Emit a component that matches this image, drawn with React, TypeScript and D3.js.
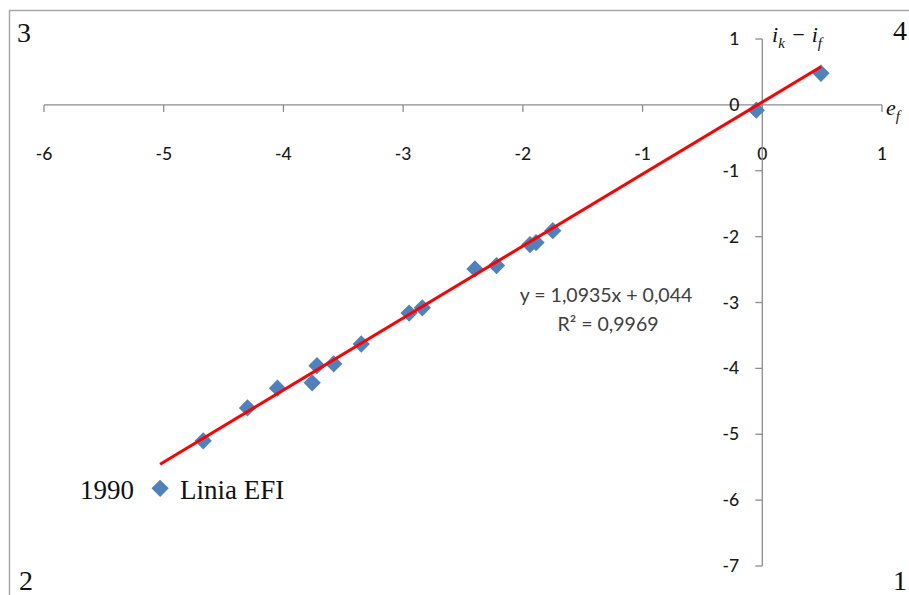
import React from "react";
import * as d3 from "d3";

// Observed points (e_f, i_k - i_f)
const ef = [0.49, -0.05, -1.75, -1.89, -1.94, -2.22, -2.4, -2.84, -2.95, -3.35, -3.58, -3.72, -3.76, -4.05, -4.3, -4.67, -5.03];
const diff = [0.48, -0.08, -1.91, -2.09, -2.12, -2.44, -2.49, -3.08, -3.16, -3.63, -3.93, -3.96, -4.22, -4.3, -4.6, -5.1, -5.82];

// Linear trend fitted to the series
const slope = 1.0935;
const intercept = 0.044;
const trendLabel = ["y = 1,0935x + 0,044", "R² = 0,9969"];

const xTicks = [-6, -5, -4, -3, -2, -1, 0, 1];
const yTicks = [1, 0, -1, -2, -3, -4, -5, -6, -7];

const W = 909;
const H = 595;

export default function App() {
  const x = d3.scaleLinear().domain([-6, 1]).range([44, 882]);
  const y = d3.scaleLinear().domain([-7, 1]).range([566, 39]);

  const x0 = x(0);
  const y0 = y(0);
  const axisColor = "#8c8c8c";
  const tickFont = "Lato, 'Open Sans', sans-serif";
  const serif = "'Liberation Serif', 'DejaVu Serif', serif";

  const xMin = d3.min(ef) as number;
  const xMax = d3.max(ef) as number;
  const trend = d3.line<number>().x((d) => x(d)).y((d) => y(slope * d + intercept));

  const diamond = d3.symbol().type(d3.symbolDiamond2).size(190)();
  const last = ef.length - 1;

  return (
    <svg
      width={W}
      height={H}
      style={{ position: "fixed", left: 0, top: 0, background: "#fff" }}
    >
      {/* outer frame */}
      <rect x={9.5} y={10.5} width={1000} height={1000} fill="none" stroke="#a6a6a6" strokeWidth={1.5} />

      {/* quadrant numbers */}
      <g fontFamily={serif} fontSize={28} fill="#111">
        <text x={17} y={42}>3</text>
        <text x={893} y={40}>4</text>
        <text x={19} y={590}>2</text>
        <text x={893} y={590}>1</text>
      </g>

      {/* horizontal axis */}
      <line x1={x(-6)} x2={x(1)} y1={y0} y2={y0} stroke={axisColor} strokeWidth={1.3} />
      {xTicks.map((t) => (
        <g key={"xt" + t}>
          <line x1={x(t)} x2={x(t)} y1={y0} y2={y0 + 7} stroke={axisColor} strokeWidth={1.3} />
          <text
            x={x(t)}
            y={y0 + 55}
            textAnchor="middle"
            fontFamily={tickFont}
            fontSize={17.5}
            fontWeight={500}
            fill="#1a1a1a"
          >
            {t}
          </text>
        </g>
      ))}

      {/* vertical axis */}
      <line x1={x0} x2={x0} y1={y(1)} y2={y(-7)} stroke={axisColor} strokeWidth={1.3} />
      {yTicks.map((t) => (
        <g key={"yt" + t}>
          <line x1={x0 - 7} x2={x0} y1={y(t)} y2={y(t)} stroke={axisColor} strokeWidth={1.3} />
          <text
            x={x0 - 23}
            y={y(t) + 6}
            textAnchor="end"
            fontFamily={tickFont}
            fontSize={17.5}
            fontWeight={500}
            fill="#1a1a1a"
          >
            {t}
          </text>
        </g>
      ))}

      {/* axis titles */}
      <text x={772} y={42} fontFamily={serif} fontStyle="italic" fontSize={22} fill="#111">
        i
        <tspan fontSize={15} dy={6}>k</tspan>
        <tspan dy={-6} dx={6}>−</tspan>
        <tspan dx={6}>i</tspan>
        <tspan fontSize={15} dy={6}>f</tspan>
      </text>
      <text x={886} y={115} fontFamily={serif} fontStyle="italic" fontSize={22} fill="#111">
        e
        <tspan fontSize={15} dy={6}>f</tspan>
      </text>

      {/* points */}
      {ef.map((v, i) => (
        <path key={"p" + i} d={diamond as string} transform={`translate(${x(v)},${y(diff[i])})`} fill="#4f81bd" />
      ))}

      {/* trendline */}
      <path d={trend([xMin, xMax]) as string} fill="none" stroke="#ff0000" strokeWidth={3} />

      {/* trend equation */}
      <g fontFamily={tickFont} fontSize={19.5} fill="#404040" textAnchor="middle">
        <text x={606} y={302}>{trendLabel[0]}</text>
        <text x={608} y={331}>{trendLabel[1]}</text>
      </g>

      {/* annotation of the 1990 point */}
      <g fontFamily={serif} fontSize={27} fill="#111">
        <text x={x(ef[last]) - 26} y={y(diff[last]) + 11} textAnchor="end">1990</text>
        <text x={x(ef[last]) + 20} y={y(diff[last]) + 11}>Linia EFI</text>
      </g>
    </svg>
  );
}
